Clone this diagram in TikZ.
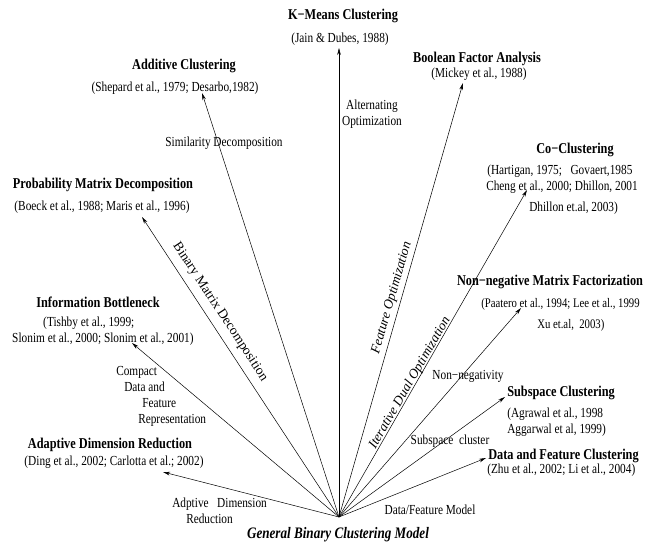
\documentclass[tikz,border=0pt]{standalone}
\usepackage{fontspec}
\setmainfont{Liberation Serif}[FakeStretch=0.82]
\newfontfamily\alongfamily{Liberation Serif}
\usetikzlibrary{arrows.meta}
\tikzset{
  headline/.style={font=\fontsize{15}{17}\selectfont\bfseries, inner sep=0pt},
  refs/.style={font=\fontsize{13.8}{16}\selectfont, align=center, inner sep=0pt},
  refsleft/.style={refs, align=left, anchor=west},
  alonglabel/.style={font=\alongfamily\fontsize{13.5}{16}\selectfont, inner sep=0pt},
}

\begin{document}
\begin{tikzpicture}[x=1pt, y=-1pt, >={Stealth[length=7pt,width=3.6pt]}, line width=0.5pt]
		\useasboundingbox (0,0) rectangle (645,542);
		% root of the fan
		\node[headline, font=\fontsize{16}{18}\selectfont\bfseries\itshape] (gbcm) at (338,535) {General Binary Clustering Model};
		\coordinate (o) at (339,517);
		% K-Means
		\node[headline] (km) at (343,16) {K−Means Clustering};
		\node[refs] (kmref) at (340,39) {(Jain \& Dubes, 1988)};
		\coordinate (kmtip) at (339,48);
		\draw[->] (o) -- (kmtip);
		\node[refs] (altopt) at (372,114) {Alternating\\Optimization};
		% additive clustering
		\node[headline] (add) at (184,66) {Additive Clustering};
		\node[refs] (addref) at (175,88) {(Shepard et al., 1979; Desarbo,1982)};
		\coordinate (addtip) at (202,93);
		\draw[->] (o) -- (addtip);
		\node[refs] (simdec) at (224,143) {Similarity Decomposition};
		% boolean factor analysis
		\node[headline] (bfa) at (477,59) {Boolean Factor Analysis};
		\node[refs] (bfaref) at (479,74) {(Mickey et al., 1988)};
		\coordinate (bfatip) at (463,83);
		\draw[->] (o) -- (bfatip);
		\node[alonglabel, rotate=74] (featopt) at (392,298) {\itshape Feature Optimization};
		% co-clustering
		\node[headline] (co) at (575,150) {Co−Clustering};
		\node[refsleft] (coref) at (486,189.5) {\hspace*{1pt}(Hartigan, 1975;~~~Govaert,1985\\Cheng et al., 2000; Dhillon, 2001\\[5pt]\hspace*{43pt}Dhillon et.al, 2003)};
		\coordinate (cotip) at (527,190);
		\draw[->] (o) -- (cotip);
		\node[alonglabel, rotate=60] (dualopt) at (410,383) {\itshape Iterative Dual Optimization};
		% probability matrix decomposition
		\node[headline] (pmd) at (103,185) {Probability Matrix Decomposition};
		\node[refs] (pmdref) at (102,207) {(Boeck et al., 1988; Maris et al., 1996)};
		\coordinate (pmdtip) at (142,217);
		\draw[->] (o) -- (pmdtip);
		\node[alonglabel, rotate=-56.7] (bmd) at (220,312) {Binary Matrix Decomposition};
		% information bottleneck
		\node[headline] (ib) at (98,302) {Information Bottleneck};
		\node[refsleft] (ibref) at (12,331) {\hspace*{31pt}(Tishby et al., 1999;\\Slonim et al., 2000; Slonim et al., 2001)};
		\coordinate (ibtip) at (132,343);
		\draw[->] (o) -- (ibtip);
		\node[refsleft] (compact) at (116,396) {Compact\\\hspace*{8pt}Data and\\\hspace*{26pt}Feature\\\hspace*{22pt}Representation};
		% non-negative matrix factorization
		\node[headline] (nmf) at (550,282) {Non−negative Matrix Factorization};
		\node[refsleft, font=\fontsize{13.1}{16}\selectfont] (nmfref) at (481,314.5) {(Paatero et al., 1994; Lee et al., 1999\\[5pt]\hspace*{56pt}Xu et.al,~~2003)};
		\coordinate (nmftip) at (521,308);
		\draw[->] (o) -- (nmftip);
		\node[refs] (nonneg) at (468,376) {Non−negativity};
		% subspace clustering
		\node[headline, anchor=west] (sc) at (507,393) {Subspace Clustering};
		\node[refsleft] (scref) at (507,422.5) {(Agrawal et al., 1998\\Aggarwal et al, 1999)};
		\coordinate (sctip) at (505,397);
		\draw[->] (o) -- (sctip);
		\node[refs] (sclabel) at (450,441) {Subspace~~cluster};
		% data and feature clustering
		\node[headline, anchor=west] (dfc) at (488,456) {Data and Feature Clustering};
		\node[refsleft] (dfcref) at (487,470) {(Zhu et al., 2002; Li et al., 2004)};
		\coordinate (dfctip) at (486,458);
		\draw[->] (o) -- (dfctip);
		\node[refs] (dfmodel) at (430,510) {Data/Feature Model};
		% adaptive dimension reduction
		\node[headline] (adr) at (110,445) {Adaptive Dimension Reduction};
		\node[refs] (adrref) at (114,462) {(Ding et al., 2002; Carlotta et al.; 2002)};
		\coordinate (adrtip) at (163,472);
		\draw[->] (o) -- (adrtip);
		\node[refsleft] (adrlabel) at (172,511) {Adptive~~~Dimension\\\hspace*{14pt}Reduction};
	\end{tikzpicture}
\end{document}
